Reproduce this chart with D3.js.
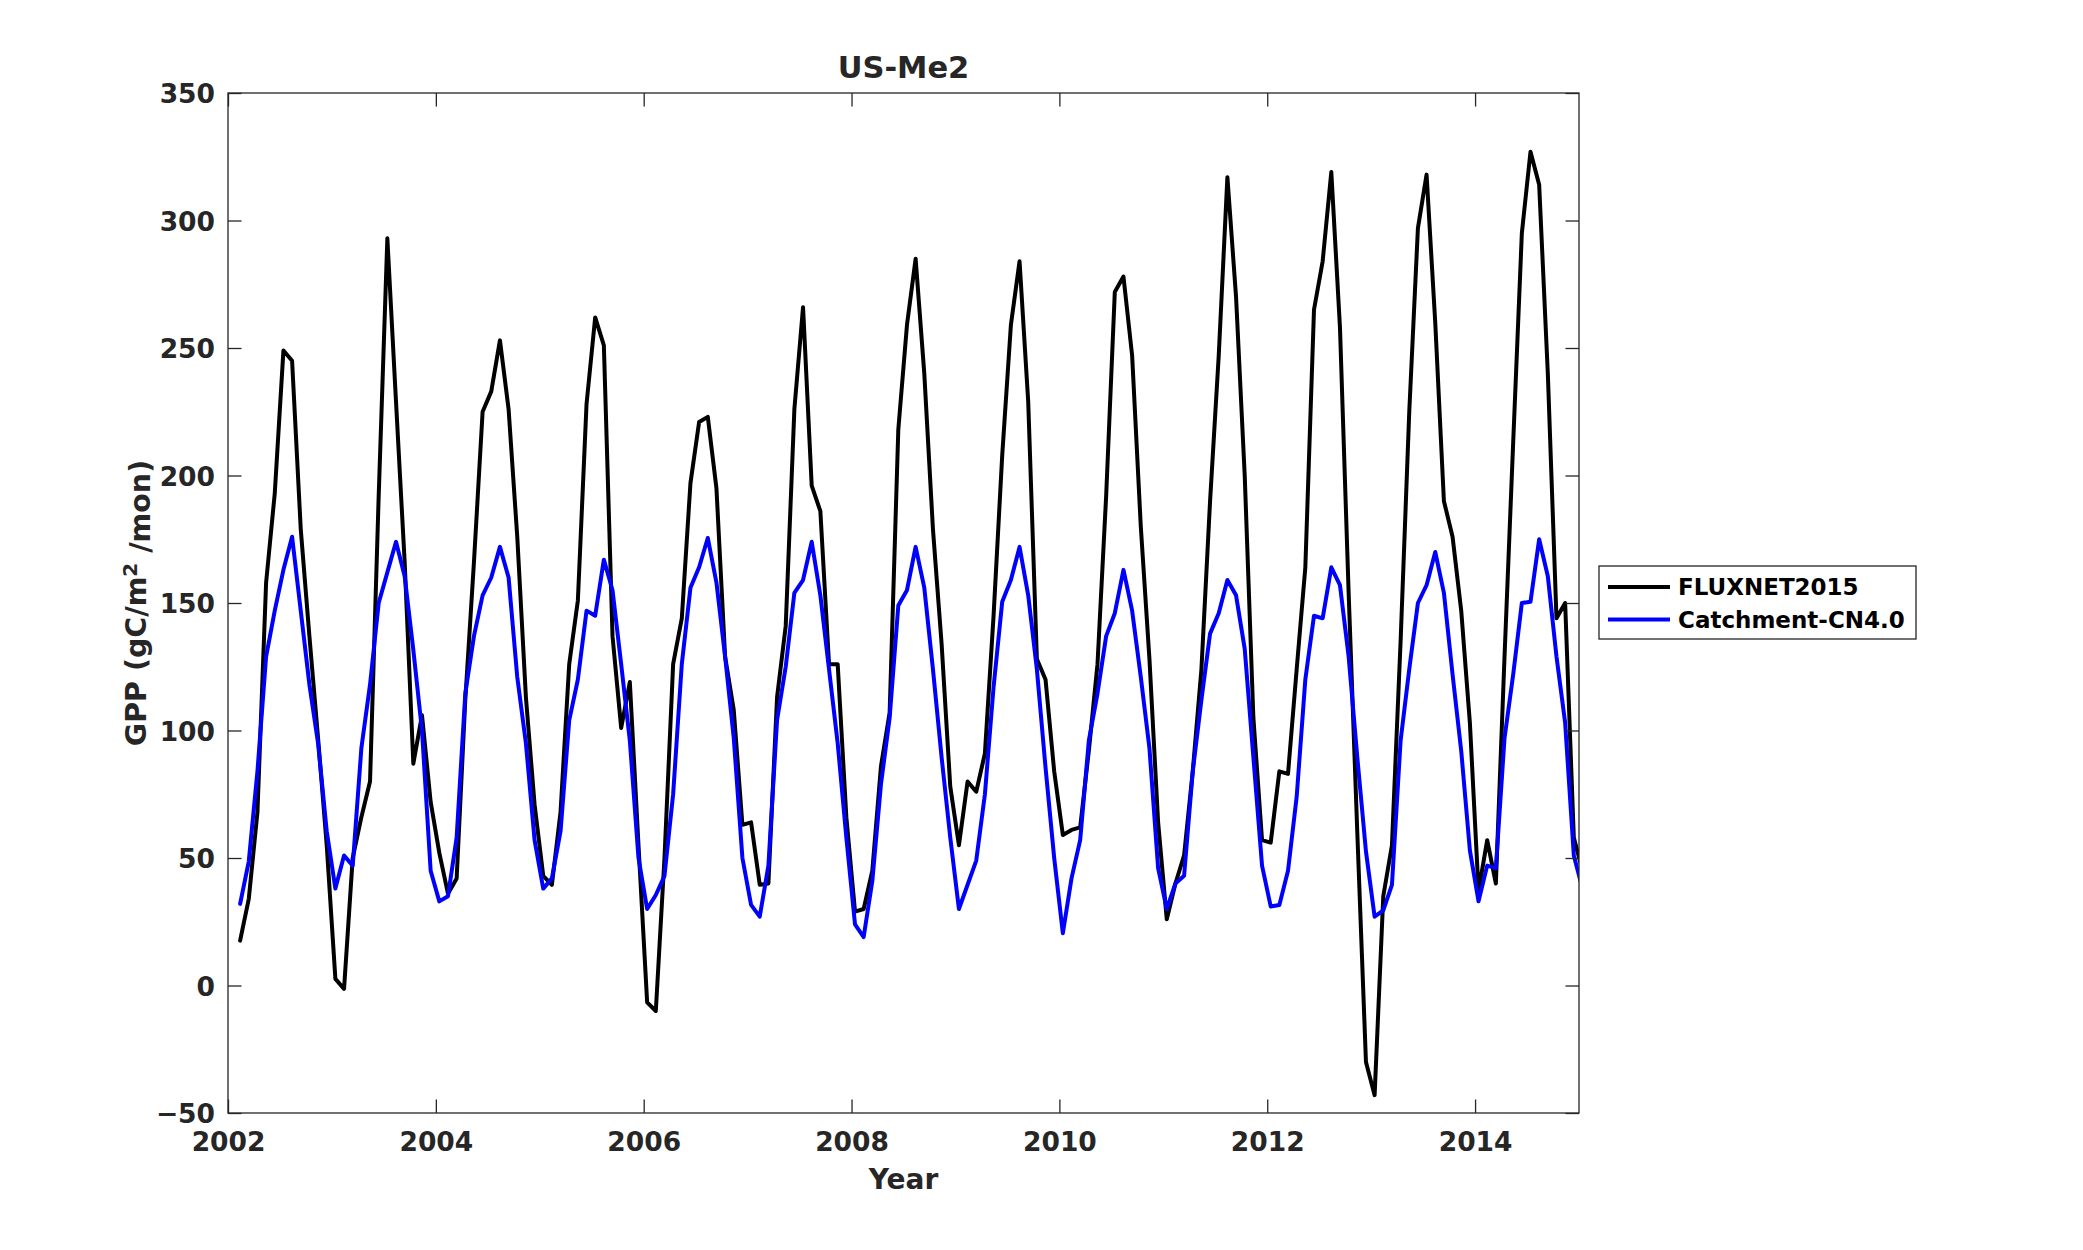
<!DOCTYPE html>
<html>
<head>
<meta charset="utf-8">
<script src="https://cdn.jsdelivr.net/npm/d3@7.9.0/dist/d3.min.js"></script>
<style>
  html, body { margin: 0; padding: 0; background: #fff; }
  svg { display: block; font-family: "DejaVu Sans", sans-serif; font-weight: bold; }
</style>
</head>
<body>
<svg id="chart" width="2083" height="1250"></svg>
<script>
/* ---------- Data (monthly GPP, gC/m2/mon) ---------- */
const startYear = 2002;
const monthOffset = 1.4;   // first sample sits ~1.4 months after Jan 1 2002

const fluxnet = [
  17.6, 34, 68, 158, 193, 249, 245, 179, 137, 97,
  55, 2.6, -1.3, 50, 66, 80, 192, 293, 229, 166,
  87, 106, 72, 52, 36, 42, 112, 166, 225, 233,
  253, 226, 176, 113, 71, 43, 39.5, 68, 126, 151,
  228, 262, 251, 137, 101, 119, 55, -6.6, -10, 50,
  126, 144, 197, 221, 223, 195, 129, 108, 63, 64,
  39.5, 40, 113, 141, 226, 266, 196, 186, 126, 126,
  66, 29, 30, 45, 86, 107, 218, 259, 285, 240,
  179, 134, 78, 55, 80, 76, 91, 145, 208, 259,
  284, 229, 128, 120, 84, 59, 61, 62, 92, 126,
  192, 272, 278, 247, 180, 128, 64, 26, 40, 51,
  84, 124, 190, 247, 317, 270, 200, 105, 57, 56,
  84, 83, 124, 164, 265, 284, 319, 258, 154, 60,
  -30, -43, 35, 55, 135, 225, 297, 318, 260, 190,
  176, 147, 103, 37, 57, 40, 129, 213, 295, 327,
  314, 240, 144, 150, 58, 45
];

const catchment = [
  32, 48.7, 84, 129, 147, 163, 176, 147, 118, 95,
  60.5, 38, 51, 47, 93, 118, 150, 162, 174, 160.5,
  131.6, 100, 45, 33, 35, 58, 114.5, 137, 153, 160,
  172, 160, 121, 95, 57, 38, 42, 60.5, 104, 120,
  147, 145, 167, 155, 126, 96, 50, 30, 35.5, 43,
  75, 126, 156, 164, 175.5, 158, 129, 97, 50, 31.6,
  27, 47, 104, 125, 154, 159, 174, 153, 124, 95,
  58, 24, 19, 41, 79, 105, 149, 155, 172, 156,
  124, 89.5, 58, 30, 39.5, 49, 75, 117, 150.5, 159,
  172, 153, 124, 85.5, 50, 20.5, 42, 57, 96, 114.5,
  137, 146, 163, 147, 121, 93, 46, 30, 40, 43,
  84, 112, 138, 146, 159, 153, 132, 89.5, 47, 31,
  31.6, 45, 74, 120, 145, 144, 164, 157, 129, 89.5,
  52.6, 27, 29.5, 39.5, 96, 124, 150, 157, 170, 154,
  122, 92, 53, 33, 47, 46, 97, 122, 150, 150.5,
  175, 160.5, 129, 103, 51, 38
];

const seriesNames  = ["FLUXNET2015", "Catchment-CN4.0"];
const seriesColors = ["#000000", "#0000ff"];
const xTicks = [2002, 2004, 2006, 2008, 2010, 2012, 2014];
const yTicks = [-50, 0, 50, 100, 150, 200, 250, 300, 350];

/* ---------- Layout ---------- */
const svg = d3.select("#chart");
const plotL = 228, plotR = 1579, plotT = 93, plotB = 1113;
const axisColor = "#262626";
const tickLen = 13.5;
const lineW = 4;

const x = d3.scaleLinear().domain([2002, 2015]).range([plotL, plotR]);
const y = d3.scaleLinear().domain([-50, 350]).range([plotB, plotT]);

const monthX = i => startYear + (i + monthOffset) / 12;

svg.append("rect").attr("width", 2083).attr("height", 1250).attr("fill", "#fff");

svg.append("defs").append("clipPath").attr("id", "plot-clip")
  .append("rect")
  .attr("x", plotL).attr("y", plotT)
  .attr("width", plotR - plotL).attr("height", plotB - plotT);

/* ---------- Lines ---------- */
const line = d3.line()
  .x((d, i) => x(monthX(i)))
  .y(d => y(d));

const plot = svg.append("g").attr("clip-path", "url(#plot-clip)");
[fluxnet, catchment].forEach((s, k) => {
  plot.append("path")
    .datum(s)
    .attr("d", line)
    .attr("fill", "none")
    .attr("stroke", seriesColors[k])
    .attr("stroke-width", lineW)
    .attr("stroke-linejoin", "round")
    .attr("stroke-linecap", "round");
});

/* ---------- Axes (MATLAB-style: box + inward ticks) ---------- */
const fmt = d => (d < 0 ? "\u2212" + Math.abs(d) : d);

const xb = svg.append("g").attr("transform", `translate(0,${plotB})`)
  .call(d3.axisBottom(x).tickValues(xTicks).tickSize(-tickLen).tickPadding(19).tickFormat(d3.format("d")));
const xt = svg.append("g").attr("transform", `translate(0,${plotT})`)
  .call(d3.axisTop(x).tickValues(xTicks).tickSize(-tickLen).tickFormat(""));
const yl = svg.append("g").attr("transform", `translate(${plotL},0)`)
  .call(d3.axisLeft(y).tickValues(yTicks).tickSize(-tickLen).tickPadding(13).tickFormat(fmt));
const yr = svg.append("g").attr("transform", `translate(${plotR},0)`)
  .call(d3.axisRight(y).tickValues(yTicks).tickSize(-tickLen).tickFormat(""));

[xb, xt, yl, yr].forEach(g => {
  g.select(".domain").remove();
  g.selectAll(".tick line").attr("stroke", axisColor).attr("stroke-width", 1.3);
  g.selectAll(".tick text")
    .attr("fill", axisColor)
    .style("font-family", "'DejaVu Sans', sans-serif")
    .style("font-weight", "bold")
    .style("font-size", "26.5px");
});
yl.selectAll(".tick text").attr("dy", "0.36em");
xb.selectAll(".tick text").attr("dy", "0.71em");

svg.append("rect")
  .attr("x", plotL).attr("y", plotT)
  .attr("width", plotR - plotL).attr("height", plotB - plotT)
  .attr("fill", "none").attr("stroke", axisColor).attr("stroke-width", 1.3);

/* ---------- Titles ---------- */
svg.append("text")
  .attr("x", (plotL + plotR) / 2).attr("y", 78)
  .attr("text-anchor", "middle")
  .attr("fill", axisColor)
  .style("font-size", "30.5px")
  .text("US-Me2");

svg.append("text")
  .attr("x", (plotL + plotR) / 2).attr("y", 1189)
  .attr("text-anchor", "middle")
  .attr("fill", axisColor)
  .style("font-size", "28px")
  .text("Year");

const yLab = svg.append("text")
  .attr("transform", `translate(146,${(plotT + plotB) / 2}) rotate(-90)`)
  .attr("text-anchor", "middle")
  .attr("fill", axisColor)
  .style("font-size", "28.5px");
yLab.append("tspan").text("GPP (gC/m");
yLab.append("tspan").attr("dy", "-0.45em").style("font-size", "20px").text("2");
yLab.append("tspan").attr("dy", "0.45em").text(" /mon)");

/* ---------- Legend ---------- */
const lg = svg.append("g").attr("transform", "translate(1599,566)");
lg.append("rect")
  .attr("width", 317).attr("height", 73)
  .attr("fill", "#fff").attr("stroke", axisColor).attr("stroke-width", 1.3);

seriesNames.forEach((name, k) => {
  const cy = 21 + k * 32.5;
  lg.append("line")
    .attr("x1", 9).attr("x2", 71).attr("y1", cy).attr("y2", cy)
    .attr("stroke", seriesColors[k]).attr("stroke-width", lineW);
  lg.append("text")
    .attr("x", 79).attr("y", cy).attr("dy", "0.36em")
    .attr("fill", "#000")
    .style("font-size", "23px")
    .text(name);
});
</script>
</body>
</html>
